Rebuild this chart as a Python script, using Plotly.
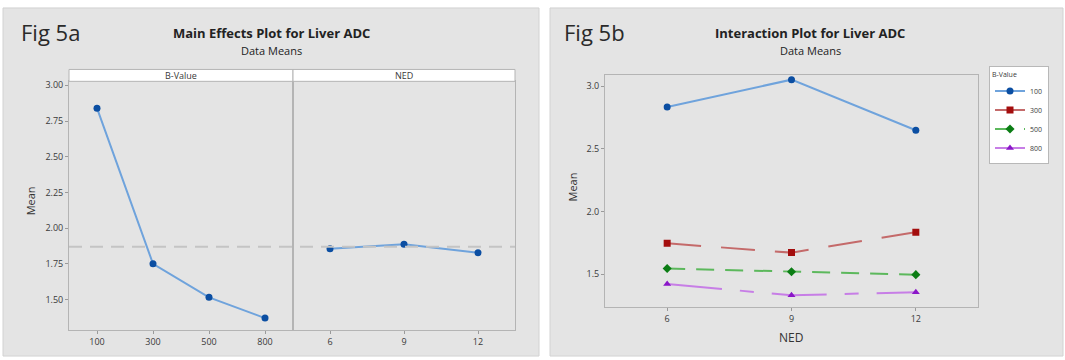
import plotly.graph_objects as go
import numpy as np

W, H = 1065, 360


def px(x):
    return x / W


def py(y):
    return 1 - y / H


# ---------------- data ----------------
b_values = ["100", "300", "500", "800"]
b_means = [2.84, 1.75, 1.515, 1.37]
ned_levels = ["6", "9", "12"]
ned_means = [1.856, 1.887, 1.828]

ned_x = [6, 9, 12]
inter_100 = [2.835, 3.053, 2.649]
inter_300 = [1.745, 1.671, 1.834]
inter_500 = [1.544, 1.518, 1.495]
inter_800 = [1.42, 1.33, 1.355]
series_names = ["100", "300", "500", "800"]

left_yticks = [1.50, 1.75, 2.00, 2.25, 2.50, 2.75, 3.00]
right_yticks = [1.5, 2.0, 2.5, 3.0]
right_xticks = [6, 9, 12]

grand_mean = float(np.mean(b_means))

FONT = "Open Sans"
TICKC = "#3a3a3a"
AXC = "#b4b4b4"

fig = go.Figure()

# main effects
fig.add_trace(go.Scatter(x=b_values, y=b_means, xaxis="x", yaxis="y",
                         mode="lines+markers", showlegend=False,
                         line=dict(color="#6fa3dc", width=2),
                         marker=dict(color="#0b4ea2", size=7)))
fig.add_trace(go.Scatter(x=ned_levels, y=ned_means, xaxis="x2", yaxis="y2",
                         mode="lines+markers", showlegend=False,
                         line=dict(color="#6fa3dc", width=2),
                         marker=dict(color="#0b4ea2", size=7)))

# interaction
styles = [
    dict(line=dict(color="#6fa3dc", width=2, dash="solid"),
         marker=dict(color="#0b4ea2", size=7, symbol="circle")),
    dict(line=dict(color="#c46a6a", width=2, dash="34px,20px"),
         marker=dict(color="#a30d0d", size=7, symbol="square")),
    dict(line=dict(color="#5cb85c", width=2, dash="18px,11px"),
         marker=dict(color="#0b7d14", size=7, symbol="diamond")),
    dict(line=dict(color="#c77ee6", width=2, dash="55px,18px,14px,18px"),
         marker=dict(color="#8a16c8", size=7, symbol="triangle-up")),
]
for name, ys, st in zip(series_names, [inter_100, inter_300, inter_500, inter_800], styles):
    fig.add_trace(go.Scatter(x=ned_x, y=ys, xaxis="x3", yaxis="y3",
                             mode="lines+markers", name=name,
                             line=st["line"], marker=st["marker"]))

axis_common = dict(showline=True, linecolor=AXC, linewidth=1, mirror=True,
                   ticks="outside", ticklen=3, tickcolor="#9a9a9a",
                   tickfont=dict(size=9, color=TICKC, family=FONT),
                   showgrid=False, zeroline=False, fixedrange=True)

left_dom_y = [py(330), py(79)]
fig.update_layout(
    width=W, height=H,
    margin=dict(l=0, r=0, t=0, b=0),
    paper_bgcolor="white", plot_bgcolor="white",
    font=dict(family=FONT, color="#222"),
    xaxis=dict(domain=[px(69), px(293)], anchor="y", type="category",
               categoryorder="array", categoryarray=b_values,
               range=[-0.5, 3.5], **axis_common),
    yaxis=dict(domain=left_dom_y, anchor="x", range=[1.2847, 3.0278],
               tickvals=left_yticks, tickformat=".2f", **axis_common),
    xaxis2=dict(domain=[px(293), px(515)], anchor="y2", type="category",
                categoryorder="array", categoryarray=ned_levels,
                range=[-0.5, 2.5], **axis_common),
    yaxis2=dict(domain=left_dom_y, anchor="x2", matches="y",
                showline=True, linecolor=AXC, linewidth=1, mirror=True,
                ticks="", showticklabels=False, showgrid=False,
                zeroline=False, fixedrange=True),
    xaxis3=dict(domain=[px(605), px(978)], anchor="y3", range=[4.5, 13.5],
                tickvals=right_xticks, **axis_common),
    yaxis3=dict(domain=[py(307), py(73)], anchor="x3", range=[1.233, 3.087],
                tickvals=right_yticks, tickformat=".1f", **axis_common),
    legend=dict(x=px(989), y=py(64), xanchor="left", yanchor="top",
                bgcolor="white", bordercolor="#b8b8b8", borderwidth=1,
                font=dict(size=7, color=TICKC, family=FONT),
                title=dict(text="B-Value", font=dict(size=7, color=TICKC)),
                itemwidth=30, tracegroupgap=0),
)

shapes = [
    # panel backgrounds
    dict(type="rect", xref="paper", yref="paper", x0=px(3), x1=px(539),
         y0=py(356), y1=py(5), fillcolor="#e4e4e4",
         line=dict(color="#d2d2d2", width=1), layer="below"),
    dict(type="rect", xref="paper", yref="paper", x0=px(550), x1=px(1063),
         y0=py(356), y1=py(5), fillcolor="#e4e4e4",
         line=dict(color="#d2d2d2", width=1), layer="below"),
    # strip headers
    dict(type="rect", xref="paper", yref="paper", x0=px(69), x1=px(293),
         y0=py(79), y1=py(67), fillcolor="white",
         line=dict(color=AXC, width=1), layer="above"),
    dict(type="rect", xref="paper", yref="paper", x0=px(293), x1=px(515),
         y0=py(79), y1=py(67), fillcolor="white",
         line=dict(color=AXC, width=1), layer="above"),
    # grand mean reference line
    dict(type="line", xref="paper", yref="y", x0=px(69), x1=px(515),
         y0=grand_mean, y1=grand_mean,
         line=dict(color="#c4c4c4", width=2, dash="13px,8px"), layer="above"),
]
fig.update_layout(shapes=shapes)

ann = [
    dict(text="Fig 5a", x=px(19), y=py(29), xanchor="left", yanchor="middle",
         font=dict(size=22, color="#2a2a2a")),
    dict(text="<b>Main Effects Plot for Liver ADC</b>", x=px(271), y=py(30),
         xanchor="center", yanchor="middle", font=dict(size=13, color="#222")),
    dict(text="Data Means", x=px(271), y=py(48), xanchor="center",
         yanchor="middle", font=dict(size=11, color="#222")),
    dict(text="B-Value", x=px(181), y=py(73), xanchor="center",
         yanchor="middle", font=dict(size=9, color=TICKC)),
    dict(text="NED", x=px(404), y=py(73), xanchor="center",
         yanchor="middle", font=dict(size=9, color=TICKC)),
    dict(text="Mean", x=px(30), y=py(200), textangle=-90, xanchor="center",
         yanchor="middle", font=dict(size=11, color="#333")),
    dict(text="Fig 5b", x=px(562), y=py(29), xanchor="left", yanchor="middle",
         font=dict(size=22, color="#2a2a2a")),
    dict(text="<b>Interaction Plot for Liver ADC</b>", x=px(810), y=py(30),
         xanchor="center", yanchor="middle", font=dict(size=13, color="#222")),
    dict(text="Data Means", x=px(810), y=py(48), xanchor="center",
         yanchor="middle", font=dict(size=11, color="#222")),
    dict(text="Mean", x=px(572), y=py(186), textangle=-90, xanchor="center",
         yanchor="middle", font=dict(size=11, color="#333")),
    dict(text="NED", x=px(791), y=py(337), xanchor="center",
         yanchor="middle", font=dict(size=12, color="#333")),
]
for a in ann:
    a.update(xref="paper", yref="paper", showarrow=False)
fig.update_layout(annotations=ann)

fig.write_html("out.html", include_plotlyjs=True, config={"displayModeBar": False})
